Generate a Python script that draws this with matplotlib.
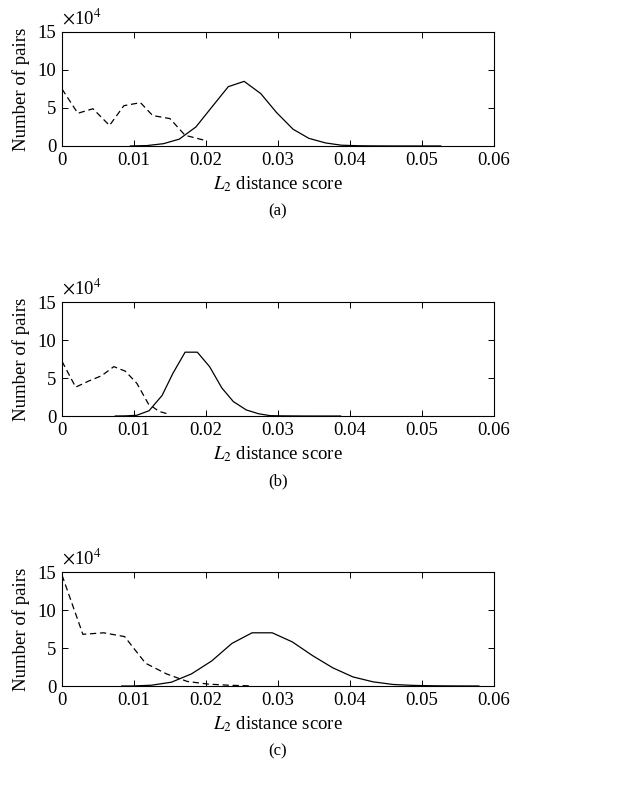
import matplotlib
matplotlib.use("Agg")
import matplotlib.pyplot as plt

plt.rcParams["font.family"] = ["Liberation Serif", "DejaVu Serif"]
plt.rcParams["mathtext.fontset"] = "stix"

# panel (a)
a_imp_x = [0, 0.0022, 0.0043, 0.0066, 0.0086, 0.0109, 0.0126, 0.0150, 0.0171, 0.0200]
a_imp_y = [7.5, 4.3, 4.9, 2.7, 5.3, 5.7, 4.0, 3.6, 1.4, 0.7]
a_gen_x = [0.0095, 0.0118, 0.0141, 0.0163, 0.0186, 0.0208, 0.0231, 0.0253, 0.0276,
           0.0298, 0.0321, 0.0343, 0.0366, 0.0388, 0.0411, 0.0433, 0.0456, 0.0478,
           0.0501, 0.0526]
a_gen_y = [0, 0.05, 0.3, 0.9, 2.5, 5.1, 7.8, 8.5, 6.9, 4.4, 2.2, 1.0, 0.4, 0.1,
           0.03, 0.01, 0, 0, 0, 0]

# panel (b)
b_imp_x = [0, 0.0019, 0.0037, 0.0055, 0.0072, 0.0088, 0.0104, 0.0120, 0.0135, 0.0150]
b_imp_y = [7.2, 3.8, 4.6, 5.3, 6.5, 5.9, 4.3, 1.6, 0.6, 0.2]
b_gen_x = [0.0074, 0.0089, 0.0104, 0.0121, 0.0139, 0.0154, 0.0171, 0.0188, 0.0205,
           0.0222, 0.0238, 0.0256, 0.0273, 0.0289, 0.0306, 0.0323, 0.0340, 0.0357,
           0.0372, 0.0387]
b_gen_y = [0, 0.02, 0.1, 0.7, 2.7, 5.6, 8.4, 8.4, 6.5, 3.7, 1.9, 0.8, 0.3, 0.05,
           0.02, 0.01, 0, 0, 0, 0]

# panel (c)
c_imp_x = [0, 0.0029, 0.0058, 0.0087, 0.0116, 0.0145, 0.0174, 0.0203, 0.0232, 0.0261]
c_imp_y = [14.6, 6.8, 7.0, 6.5, 3.0, 1.6, 0.6, 0.25, 0.1, 0.02]
c_gen_x = [0.0083, 0.0096, 0.0124, 0.0152, 0.0180, 0.0208, 0.0236, 0.0264, 0.0292,
           0.0320, 0.0348, 0.0376, 0.0404, 0.0432, 0.0460, 0.0488, 0.0516, 0.0544,
           0.0579]
c_gen_y = [0, 0, 0.1, 0.5, 1.6, 3.3, 5.6, 7.0, 7.0, 5.8, 4.0, 2.4, 1.2, 0.55, 0.2,
           0.08, 0.03, 0.01, 0]

panels = [
    ("(a)", a_imp_x, a_imp_y, a_gen_x, a_gen_y, 0.8164),
    ("(b)", b_imp_x, b_imp_y, b_gen_x, b_gen_y, 0.4767),
    ("(c)", c_imp_x, c_imp_y, c_gen_x, c_gen_y, 0.1371),
]

xticks = [0, 0.01, 0.02, 0.03, 0.04, 0.05, 0.06]
xticklabels = ["0", "0.01", "0.02", "0.03", "0.04", "0.05", "0.06"]
yticks = [0, 5, 10, 15]

FS = 13.5

fig = plt.figure(figsize=(6.39, 7.95), dpi=100)

for tag, ix, iy, gx, gy, bottom in panels:
    ax = fig.add_axes([0.097, bottom, 0.676, 0.1434])
    ax.plot(ix, iy, color="black", lw=0.9, ls=(0, (5, 3)))
    ax.plot(gx, gy, color="black", lw=0.9)
    ax.set_xlim(0, 0.06)
    ax.set_ylim(0, 15)
    ax.set_xticks(xticks)
    ax.set_xticklabels(xticklabels)
    ax.set_yticks(yticks)
    ax.tick_params(direction="in", top=True, right=True, labelsize=FS,
                   length=4.5, width=0.7, pad=4)
    for sp in ax.spines.values():
        sp.set_linewidth(0.8)
    ax.set_ylabel("Number of pairs", fontsize=FS)
    ax.yaxis.set_label_coords(-0.074, 0.5)
    ax.set_xlabel("$L_2$ distance score", fontsize=FS)
    ax.xaxis.set_label_coords(0.5, -0.25)
    ax.text(0.0, 1.03, r"$\times$10$^4$", transform=ax.transAxes, fontsize=FS,
            ha="left", va="bottom")
    ax.text(0.5, -0.57, tag, transform=ax.transAxes, fontsize=12,
            ha="center", va="center")

fig.savefig("out.png", dpi=100)
